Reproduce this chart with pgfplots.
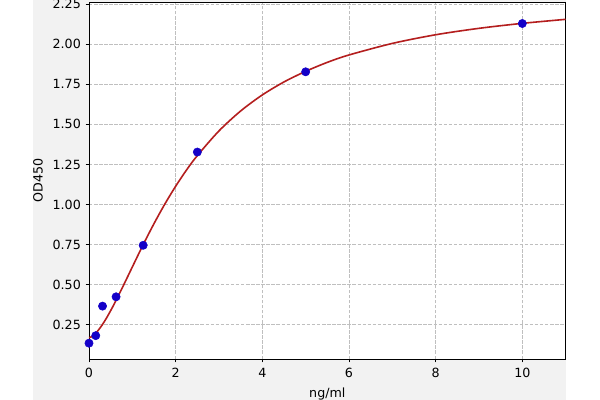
\documentclass[border=0pt]{standalone}
\usepackage{pgfplots}
\pgfplotsset{compat=1.18}
\usepackage{fontspec}
\setmainfont{DejaVu Sans}
\definecolor{figbg}{RGB}{242,242,242}
\definecolor{ptblue}{RGB}{20,0,200}
\definecolor{fitred}{RGB}{180,30,30}
\begin{document}
\begin{tikzpicture}
\useasboundingbox (0,0) rectangle (450pt,300pt);
\fill[white] (0,0) rectangle (450pt,300pt);
\fill[figbg] (24.75pt,0) rectangle (424.3pt,300pt);
\begin{axis}[
  at={(66.75pt,30.75pt)}, anchor=south west,
  scale only axis, width=357.5pt, height=267.5pt,
  xmin=0, xmax=11, ymin=0.0375, ymax=2.26,
  xtick={0,2,4,6,8,10},
  ytick={0.25,0.5,0.75,1,1.25,1.5,1.75,2,2.25},
  yticklabel style={/pgf/number format/.cd, fixed, fixed zerofill, precision=2},
  xticklabel style={yshift=-1pt},
  /pgf/number format/assume math mode=true,
  tick align=outside, major tick length=2.6pt,
  tick style={black, line width=0.6pt},
  xtick pos=bottom, ytick pos=left,
  axis line style={black, line width=0.75pt},
  axis background/.style={fill=white},
  grid=major,
  major grid style={gray!50, line width=0.6pt, dash pattern=on 2.6pt off 1.2pt},
  font=\fontsize{9.5}{11}\selectfont,
  xlabel={ng/ml}, ylabel={OD450},
  every axis x label/.style={at={(axis description cs:0.5,0)}, anchor=center, yshift=-26.5pt},
  every axis y label/.style={at={(axis description cs:0,0.5)}, anchor=center, xshift=-38.25pt, rotate=90},
  clip=false,
]
\addplot[only marks, mark=*, mark size=3.1pt, mark options={fill=ptblue, draw=ptblue}] coordinates {
  (0,0.136) (0.156,0.183) (0.3125,0.367) (0.625,0.425) (1.25,0.746) (2.5,1.327) (5,1.827) (10,2.128)
};
\addplot[fitred, line width=1.2pt, smooth] coordinates {
  (0,0.170) (0.05,0.175) (0.1,0.184) (0.2,0.212) (0.3,0.248) (0.4,0.291) (0.5,0.339)
  (0.6,0.390) (0.8,0.499) (1.0,0.611) (1.25,0.750) (1.5,0.881) (1.75,1.003)
  (2.0,1.114) (2.25,1.215) (2.5,1.305) (3.0,1.459) (3.5,1.583) (4.0,1.683)
  (4.5,1.764) (5.0,1.830) (5.5,1.886) (6.0,1.932) (7.0,2.004) (8.0,2.058)
  (9.0,2.098) (10.0,2.129) (11.0,2.154)
};
\end{axis}
\end{tikzpicture}
\end{document}
